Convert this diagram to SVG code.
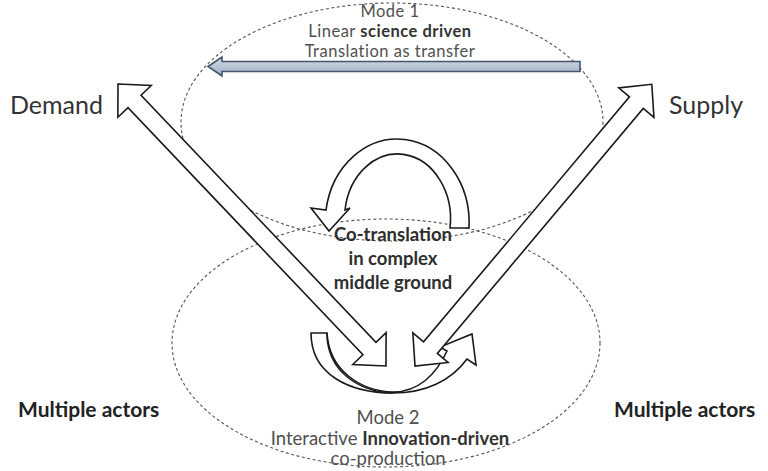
<svg xmlns="http://www.w3.org/2000/svg" width="768" height="471" viewBox="0 0 768 471">
  <defs>
    <linearGradient id="blueFill" x1="0" y1="0" x2="0" y2="1">
      <stop offset="0" stop-color="#d3dbe6"/>
      <stop offset="1" stop-color="#9eafc5"/>
    </linearGradient>
  </defs>
  <style>
    text { font-family: Lato, "Open Sans", sans-serif; fill: #3a3a3a; }
    .mode { font-size: 18.5px; text-anchor: middle; fill: #505050; }
    .top { font-size: 16.5px; letter-spacing: 0.5px; }
    .mid { font-size: 18.5px; font-weight: bold; text-anchor: middle; fill: #2e2e2e; }
    .side { font-size: 25px; fill: #333; }
    .actors { font-size: 21px; font-weight: bold; fill: #222; }
    .b { font-weight: bold; fill: #333; }
    .zone { fill: none; stroke: #555; stroke-width: 1.1; stroke-dasharray: 3 2.5; }
    .block { fill: #fff; stroke: #1a1a1a; stroke-width: 1.6; stroke-linejoin: miter; }
    .curve { fill: none; stroke: #1a1a1a; stroke-width: 1.6; }
    .flow { fill: url(#blueFill); stroke: #44546b; stroke-width: 1.6; }
  </style>

  <!-- dashed zones -->
  <g id="zone-mode1">
    <ellipse class="zone" cx="392" cy="122" rx="211" ry="119"/>
  </g>
  <g id="zone-mode2">
    <ellipse class="zone" cx="386" cy="343" rx="214" ry="124"/>
  </g>

  <!-- Mode 1 -->
  <g id="mode1">
    <text class="mode top" x="390" y="17">Mode 1</text>
    <text class="mode top" x="390" y="37">Linear <tspan class="b">science driven</tspan></text>
    <text class="mode top" x="390" y="57">Translation as transfer</text>
  </g>

  <!-- Mode 2 -->
  <g id="mode2">
    <text class="mode" x="388" y="424">Mode 2</text>
    <text class="mode" x="390" y="445">Interactive <tspan class="b">Innovation-driven</tspan></text>
    <text class="mode" x="388" y="465">co-production</text>
  </g>

  <g id="middle-ground">
    <text class="mid" x="393" y="241">Co-translation</text>
    <text class="mid" x="393" y="265">in complex</text>
    <text class="mid" x="393" y="289">middle ground</text>
  </g>

  <g id="demand">
    <text class="side" x="10" y="114">Demand</text>
  </g>
  <g id="supply">
    <text class="side" x="669" y="114">Supply</text>
  </g>

  <g id="actors-left">
    <text class="actors" x="18" y="417">Multiple actors</text>
  </g>
  <g id="actors-right">
    <text class="actors" x="614" y="417">Multiple actors</text>
  </g>

  <!-- arrows -->
  <g id="connectors">
    <!-- transfer arrow, right to left -->
    <path class="flow" d="M208,66.5 L222,57 L222,61.5 L580,61.5 L580,71.5 L222,71.5 L222,76 Z"/>

    <!-- interactive loop (sits under the double arrows) -->
    <path class="block" d="M311,333 L327,333 C329,370 360,391 393,392 C418,392 436,375 447,351 L440,347 L472,334 L476,365 L467,359 C451,381 425,393 393,393 C350,393 311,375 311,333 Z"/>
    <path class="curve" d="M327,333 C327,372 360,392 393,393"/>

    <!-- demand double arrow -->
    <path class="block" transform="translate(118,84) rotate(46.46)"
          d="M0,0 L24,-23 L24,-9 L365,-9 L365,-23 L389,0 L365,23 L365,9 L24,9 L24,23 Z"/>
    <!-- supply double arrow -->
    <path class="block" transform="translate(415,366) rotate(-49.95)"
          d="M0,0 L24,-23 L24,-9 L344,-9 L344,-23 L368,0 L344,23 L344,9 L24,9 L24,23 Z"/>

    <!-- co-translation loop -->
    <path class="block" d="M450,228 L469,228 A72,84 0 0 0 326,210 L311,208 L329,231 L350,208 L345,210 A53,65 0 0 1 450,228 Z"/>
  </g>
</svg>
